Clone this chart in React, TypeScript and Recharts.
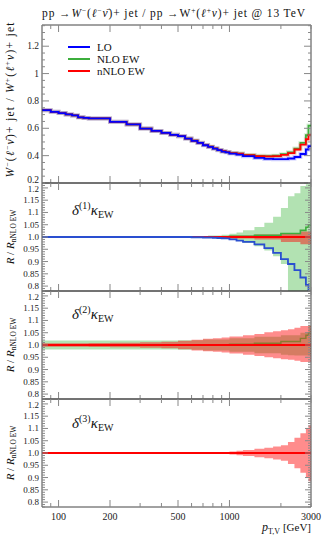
import React from 'react';
import { ComposedChart, Line, Area, XAxis, YAxis } from 'recharts';

// pT,V bin edges [GeV]
const binEdges = [80, 90, 100, 110, 120, 130, 140, 150, 200, 250, 300, 350, 400, 450, 500, 550, 600, 650, 700, 750, 800, 850, 900, 950, 1000, 1100, 1200, 1400, 1600, 1800, 2000, 2200, 2400, 2600, 2800, 2900, 3000];

// main panel: W- / W+ ratio
const mainLO = [0.732, 0.720, 0.711, 0.701, 0.694, 0.680, 0.676, 0.672, 0.647, 0.628, 0.598, 0.581, 0.566, 0.552, 0.542, 0.525, 0.508, 0.493, 0.476, 0.464, 0.452, 0.440, 0.430, 0.424, 0.415, 0.408, 0.396, 0.383, 0.376, 0.374, 0.374, 0.379, 0.390, 0.412, 0.445, 0.470];
const mainNNLO = [0.732, 0.720, 0.711, 0.701, 0.694, 0.680, 0.676, 0.672, 0.647, 0.628, 0.598, 0.581, 0.566, 0.552, 0.542, 0.525, 0.509, 0.494, 0.477, 0.465, 0.453, 0.442, 0.432, 0.426, 0.419, 0.414, 0.404, 0.396, 0.394, 0.397, 0.405, 0.418, 0.445, 0.480, 0.520, 0.550];
const mainNLO = [0.732, 0.720, 0.711, 0.701, 0.694, 0.680, 0.676, 0.672, 0.647, 0.628, 0.598, 0.581, 0.566, 0.552, 0.542, 0.525, 0.509, 0.494, 0.477, 0.465, 0.453, 0.442, 0.432, 0.426, 0.420, 0.415, 0.405, 0.399, 0.397, 0.400, 0.411, 0.424, 0.452, 0.493, 0.549, 0.620];

// ratios to nNLO EW
const ratioLO = [1, 1, 1, 1, 1, 1, 1, 1, 1, 1, 1, 1, 1, 1, 1, 1, 0.999, 0.999, 0.998, 0.998, 0.997, 0.996, 0.995, 0.994, 0.990, 0.985, 0.980, 0.970, 0.955, 0.935, 0.910, 0.890, 0.865, 0.835, 0.805, 0.775];
const ratioNLO = [1, 1, 1, 1, 1, 1, 1, 1, 1, 1, 1, 1, 1, 1, 1, 1, 1, 1, 1, 1, 1, 1, 1, 1, 1.003, 1.003, 1.003, 1.007, 1.007, 1.007, 1.014, 1.014, 1.014, 1.027, 1.040, 1.050];
const ratioNNLO = [1, 1, 1, 1, 1, 1, 1, 1, 1, 1, 1, 1, 1, 1, 1, 1, 1, 1, 1, 1, 1, 1, 1, 1, 1, 1, 1, 1, 1, 1, 1, 1, 1, 1, 1, 1];

// delta(1) kappa_EW bands
const d1NLOHi = [1.001, 1.001, 1.001, 1.001, 1.001, 1.001, 1.001, 1.001, 1.001, 1.001, 1.001, 1.001, 1.002, 1.002, 1.002, 1.002, 1.004, 1.004, 1.004, 1.006, 1.006, 1.006, 1.009, 1.009, 1.013, 1.018, 1.027, 1.041, 1.058, 1.083, 1.118, 1.166, 1.178, 1.208, 1.215, 1.250];
const d1NLOLo = [0.999, 0.999, 0.999, 0.999, 0.999, 0.999, 0.999, 0.999, 0.999, 0.999, 0.999, 0.999, 0.998, 0.998, 0.998, 0.998, 0.998, 0.998, 0.998, 0.997, 0.997, 0.997, 0.994, 0.994, 0.990, 0.985, 0.976, 0.962, 0.945, 0.922, 0.890, 0.760, 0.760, 0.760, 0.760, 0.760];
const d1NNLOHi = [1.0005, 1.0005, 1.0005, 1.0005, 1.0005, 1.0005, 1.0005, 1.0005, 1.0005, 1.0005, 1.0005, 1.0005, 1.0005, 1.0005, 1.0005, 1.0005, 1.003, 1.003, 1.003, 1.003, 1.003, 1.003, 1.003, 1.003, 1.006, 1.006, 1.006, 1.010, 1.010, 1.010, 1.015, 1.015, 1.015, 1.022, 1.022, 1.022];
const d1NNLOLo = [0.9995, 0.9995, 0.9995, 0.9995, 0.9995, 0.9995, 0.9995, 0.9995, 0.9995, 0.9995, 0.9995, 0.9995, 0.9995, 0.9995, 0.9995, 0.9995, 0.997, 0.997, 0.997, 0.997, 0.997, 0.997, 0.997, 0.997, 0.994, 0.994, 0.994, 0.990, 0.990, 0.990, 0.980, 0.980, 0.980, 0.970, 0.970, 0.970];

// delta(2) kappa_EW bands
const d2NLOHi = [1.018, 1.018, 1.018, 1.018, 1.018, 1.018, 1.018, 1.018, 1.018, 1.018, 1.018, 1.018, 1.018, 1.018, 1.019, 1.019, 1.019, 1.019, 1.022, 1.022, 1.022, 1.022, 1.022, 1.022, 1.027, 1.027, 1.027, 1.034, 1.034, 1.034, 1.040, 1.040, 1.040, 1.050, 1.050, 1.080];
const d2NLOLo = [0.982, 0.982, 0.982, 0.982, 0.982, 0.982, 0.982, 0.982, 0.982, 0.982, 0.982, 0.982, 0.982, 0.982, 0.981, 0.981, 0.981, 0.981, 0.978, 0.978, 0.978, 0.978, 0.978, 0.978, 0.973, 0.973, 0.973, 0.966, 0.966, 0.966, 0.960, 0.958, 0.957, 0.957, 0.957, 0.957];
const d2NNLOHi = [1.007, 1.007, 1.007, 1.007, 1.007, 1.007, 1.007, 1.008, 1.009, 1.009, 1.011, 1.011, 1.013, 1.013, 1.017, 1.017, 1.021, 1.021, 1.025, 1.025, 1.028, 1.028, 1.031, 1.031, 1.035, 1.035, 1.040, 1.045, 1.052, 1.056, 1.060, 1.064, 1.070, 1.077, 1.077, 1.077];
const d2NNLOLo = [0.993, 0.993, 0.993, 0.993, 0.993, 0.993, 0.993, 0.992, 0.991, 0.991, 0.989, 0.989, 0.987, 0.987, 0.983, 0.983, 0.978, 0.978, 0.975, 0.975, 0.972, 0.972, 0.969, 0.969, 0.965, 0.965, 0.960, 0.955, 0.950, 0.946, 0.942, 0.940, 0.936, 0.931, 0.931, 0.931];

// delta(3) kappa_EW band
const d3NNLOHi = [1.0005, 1.0005, 1.0005, 1.0005, 1.0005, 1.0005, 1.0005, 1.0005, 1.001, 1.001, 1.001, 1.001, 1.001, 1.001, 1.001, 1.001, 1.003, 1.003, 1.003, 1.003, 1.003, 1.003, 1.003, 1.003, 1.006, 1.009, 1.012, 1.017, 1.021, 1.026, 1.032, 1.045, 1.062, 1.080, 1.100, 1.113];
const d3NNLOLo = [0.9995, 0.9995, 0.9995, 0.9995, 0.9995, 0.9995, 0.9995, 0.9995, 0.999, 0.999, 0.999, 0.999, 0.999, 0.999, 0.999, 0.999, 0.997, 0.997, 0.997, 0.997, 0.997, 0.997, 0.997, 0.997, 0.994, 0.991, 0.988, 0.983, 0.979, 0.974, 0.968, 0.955, 0.938, 0.920, 0.900, 0.885];

// axis ticks
const xTicks = [90, 100, 200, 300, 400, 500, 600, 700, 800, 900, 1000, 2000, 3000];
const xMajor = [100, 200, 500, 1000];
const xLabels = [100, 200, 500, 1000, 3000];
const mainYTicks = [0.2, 0.25, 0.3, 0.35, 0.4, 0.45, 0.5, 0.55, 0.6, 0.65, 0.7, 0.75, 0.8, 0.85, 0.9, 0.95, 1, 1.05, 1.1, 1.15, 1.2, 1.25, 1.3, 1.35];
const mainYLabels = [0.2, 0.4, 0.6, 0.8, 1, 1.2];
const ratioYLabels = [0.8, 0.85, 0.9, 0.95, 1.0, 1.05, 1.1, 1.15, 1.2];
const ratioYTicks = Array.from({ length: 45 }, (_, i) => +(0.78 + i * 0.01).toFixed(2));

const BLUE = '#0000ff';
const BLUE_R = '#2a4fd0';
const GREEN = '#3cae3c';
const RED = '#ff0000';
const FRAME = '#444';
const TICK = '#888';
const FONT = "'Liberation Serif', 'DejaVu Serif', serif";

const W = 324;
const H = 540;
const X_L = 42;
const X_R = 311;

const rows = binEdges.map((x, i) => {
  const k = Math.min(i, binEdges.length - 2);
  return {
    x,
    lo: mainLO[k],
    nlo: mainNLO[k],
    nnlo: mainNNLO[k],
    rLO: ratioLO[k],
    rNLO: ratioNLO[k],
    rNNLO: ratioNNLO[k],
    b1NLO: [d1NLOLo[k], d1NLOHi[k]],
    b1NNLO: [d1NNLOLo[k], d1NNLOHi[k]],
    b2NLO: [d2NLOLo[k], d2NLOHi[k]],
    b2NNLO: [d2NNLOLo[k], d2NNLOHi[k]],
    b3NNLO: [d3NNLOLo[k], d3NNLOHi[k]],
  };
});

const step = (key: string, color: string, width: number, opacity = 1) => (
  <Line
    key={key + width}
    dataKey={key}
    type="stepAfter"
    stroke={color}
    strokeWidth={width}
    strokeOpacity={opacity}
    dot={false}
    activeDot={false}
    isAnimationActive={false}
  />
);

const band = (key: string, color: string, opacity: number) => (
  <Area
    key={key}
    dataKey={key}
    type="stepAfter"
    stroke="none"
    fill={color}
    fillOpacity={opacity}
    activeDot={false}
    isAnimationActive={false}
  />
);

type PanelProps = {
  top: number;
  bottom: number;
  domain: [number, number];
  yTicks: number[];
  yLabels: number[];
  fmtY: (v: number) => string;
  yFont: number;
  majorLen: number;
  labelShift: (v: number) => number;
  showX?: boolean;
  children: React.ReactNode;
};

const Panel = ({ top, bottom, domain, yTicks, yLabels, fmtY, yFont, majorLen, labelShift, showX, children }: PanelProps) => {
  // ticks point inwards, on both sides of the frame
  const xTick = (p: any) => {
    const v = p.payload.value as number;
    const len = xMajor.includes(v) ? 7 : 4;
    return (
      <g>
        <line x1={p.x} x2={p.x} y1={bottom} y2={bottom - len} stroke={TICK} />
        <line x1={p.x} x2={p.x} y1={top} y2={top + len} stroke={TICK} />
        {showX && xLabels.includes(v) ? (
          <text x={p.x} y={bottom + 13} textAnchor="middle" fontSize={10} fontFamily={FONT} fill="#222">
            {v}
          </text>
        ) : null}
      </g>
    );
  };
  const yTick = (p: any) => {
    const v = p.payload.value as number;
    const major = yLabels.some((l) => Math.abs(l - v) < 1e-6);
    const len = major ? majorLen : 3;
    return (
      <g>
        <line x1={X_L} x2={X_L + len} y1={p.y} y2={p.y} stroke={TICK} />
        <line x1={X_R - len} x2={X_R} y1={p.y} y2={p.y} stroke={TICK} />
        {major ? (
          <text x={X_L - 3} y={p.y + 3 + labelShift(v)} textAnchor="end" fontSize={yFont} fontFamily={FONT} fill="#222">
            {fmtY(v)}
          </text>
        ) : null}
      </g>
    );
  };
  return (
    <div style={{ position: 'absolute', left: 0, top: 0 }}>
      <ComposedChart
        width={W}
        height={H}
        data={rows}
        margin={{ top: top - 1, bottom: H - bottom - 1, left: 0, right: W - X_R - 1 }}
      >
        <XAxis
          dataKey="x"
          type="number"
          scale="log"
          domain={[80, 3000]}
          allowDataOverflow
          ticks={xTicks}
          interval={0}
          height={1}
          tickLine={false}
          axisLine={{ stroke: FRAME }}
          tick={xTick}
        />
        <XAxis
          xAxisId="top"
          orientation="top"
          dataKey="x"
          type="number"
          scale="log"
          domain={[80, 3000]}
          allowDataOverflow
          height={1}
          tick={false}
          tickLine={false}
          axisLine={{ stroke: FRAME }}
        />
        <YAxis
          type="number"
          domain={domain}
          allowDataOverflow
          ticks={yTicks}
          interval={0}
          width={X_L}
          tickLine={false}
          axisLine={{ stroke: FRAME }}
          tick={yTick}
        />
        <YAxis
          yAxisId="right"
          orientation="right"
          type="number"
          domain={domain}
          allowDataOverflow
          width={1}
          tick={false}
          tickLine={false}
          axisLine={{ stroke: FRAME }}
        />
        {children}
      </ComposedChart>
    </div>
  );
};

const fmtMain = (v: number) => (v === 1 ? '1' : String(v));
const fmtRatio = (v: number) => (Math.round(v * 100) % 10 === 0 ? v.toFixed(1) : v.toFixed(2));
// keep the 0.2 / 1.2 labels at the panel joins apart
const shiftMain = (v: number) => (v === 0.2 ? -3 : 0);
const shiftRatio = (v: number) => (v === 1.2 ? 1.5 : 0);

const GREEN_BAND = '#00a000';
const RED_BAND = '#ff0000';

const KappaLabel = ({ n, y }: { n: number; y: number }) => (
  <text x={72} y={y} fontSize={15} fill="#111">
    <tspan fontStyle="italic">δ</tspan>
    <tspan fontSize={10} dy={-6}>({n})</tspan>
    <tspan fontStyle="italic" dy={6}>κ</tspan>
    <tspan fontSize={10} dy={3}>EW</tspan>
  </text>
);

const RatioLabel = ({ y }: { y: number }) => (
  <text transform={`translate(14,${y}) rotate(-90)`} textAnchor="middle" fontSize={11} fill="#111">
    <tspan fontStyle="italic">R</tspan>
    <tspan> / </tspan>
    <tspan fontStyle="italic">R</tspan>
    <tspan fontSize={7.5} dy={2}>nNLO EW</tspan>
  </text>
);

export default function App() {
  const ratioDomain: [number, number] = [0.78, 1.22];
  return (
    <div style={{ position: 'absolute', left: 0, top: 0, width: W, height: H, background: '#fff' }}>
      <Panel top={25} bottom={183} domain={[0.2, 1.355]} yTicks={mainYTicks} yLabels={mainYLabels} fmtY={fmtMain} yFont={9.5} majorLen={7} labelShift={shiftMain}>
        {step('nlo', GREEN, 4, 0.2)}
        {step('nnlo', RED, 4, 0.15)}
        {step('lo', BLUE, 4, 0.2)}
        {step('nlo', GREEN, 1.8)}
        {step('nnlo', RED, 1.8)}
        {step('lo', BLUE, 1.8)}
      </Panel>
      <Panel top={183} bottom={291} domain={ratioDomain} yTicks={ratioYTicks} yLabels={ratioYLabels} fmtY={fmtRatio} yFont={9} majorLen={6} labelShift={shiftRatio}>
        {band('b1NLO', GREEN_BAND, 0.3)}
        {band('b1NNLO', RED_BAND, 0.45)}
        {step('rNLO', GREEN, 1.6)}
        {step('rNNLO', RED, 2.2)}
        {step('rLO', BLUE_R, 1.8)}
      </Panel>
      <Panel top={291} bottom={399} domain={ratioDomain} yTicks={ratioYTicks} yLabels={ratioYLabels} fmtY={fmtRatio} yFont={9} majorLen={6} labelShift={shiftRatio}>
        {band('b2NLO', GREEN_BAND, 0.3)}
        {band('b2NNLO', RED_BAND, 0.45)}
        {step('rNLO', '#8a7a30', 1.4)}
        {step('rNNLO', RED, 2.2)}
      </Panel>
      <Panel top={399} bottom={507} domain={ratioDomain} yTicks={ratioYTicks} yLabels={ratioYLabels} fmtY={fmtRatio} yFont={9} majorLen={6} labelShift={shiftRatio} showX>
        {band('b3NNLO', RED_BAND, 0.45)}
        {step('rNNLO', RED, 2.2)}
      </Panel>
      <svg
        width={W}
        height={H}
        style={{ position: 'absolute', left: 0, top: 0, pointerEvents: 'none' }}
        fontFamily={FONT}
      >
        <text x={42} y={16.5} fontSize={11.5} fill="#111" textLength={263}>
          <tspan>pp →</tspan>
          <tspan fontStyle="italic">W</tspan>
          <tspan fontSize={7.5} dy={-4}>−</tspan>
          <tspan dy={4}>(</tspan>
          <tspan fontStyle="italic">ℓ</tspan>
          <tspan fontSize={7.5} dy={-4}>−</tspan>
          <tspan fontStyle="italic" dy={4}>ν̄</tspan>
          <tspan>)+ jet / pp →</tspan>
          <tspan>W</tspan>
          <tspan fontSize={7.5} dy={-4}>+</tspan>
          <tspan dy={4}>(</tspan>
          <tspan fontStyle="italic">ℓ</tspan>
          <tspan fontSize={7.5} dy={-4}>+</tspan>
          <tspan fontStyle="italic" dy={4}>ν</tspan>
          <tspan>)+ jet @ 13 TeV</tspan>
        </text>

        <text transform="translate(14,100) rotate(-90)" textAnchor="middle" fontSize={11.5} fill="#111" textLength={155}>
          <tspan fontStyle="italic">W</tspan>
          <tspan fontSize={7.5} dy={-4}>−</tspan>
          <tspan dy={4}>(</tspan>
          <tspan fontStyle="italic">ℓ</tspan>
          <tspan fontSize={7.5} dy={-4}>−</tspan>
          <tspan fontStyle="italic" dy={4}>ν̄</tspan>
          <tspan>)+ jet / </tspan>
          <tspan fontStyle="italic">W</tspan>
          <tspan fontSize={7.5} dy={-4}>+</tspan>
          <tspan dy={4}>(</tspan>
          <tspan fontStyle="italic">ℓ</tspan>
          <tspan fontSize={7.5} dy={-4}>+</tspan>
          <tspan fontStyle="italic" dy={4}>ν</tspan>
          <tspan>)+ jet</tspan>
        </text>

        <line x1={68} x2={90} y1={47} y2={47} stroke={BLUE} strokeWidth={2} />
        <text x={97} y={51} fontSize={11} fill="#111">LO</text>
        <line x1={68} x2={90} y1={59} y2={59} stroke={GREEN} strokeWidth={2} />
        <text x={97} y={63} fontSize={11} fill="#111">NLO EW</text>
        <line x1={68} x2={90} y1={71} y2={71} stroke={RED} strokeWidth={2} />
        <text x={97} y={75} fontSize={11} fill="#111">nNLO EW</text>

        <KappaLabel n={1} y={215} />
        <KappaLabel n={2} y={319} />
        <KappaLabel n={3} y={428} />

        <RatioLabel y={237} />
        <RatioLabel y={345} />
        <RatioLabel y={453} />

        <text x={311} y={531} textAnchor="end" fontSize={12} fill="#111">
          <tspan fontStyle="italic">p</tspan>
          <tspan fontSize={8} dy={3}>T,V</tspan>
          <tspan fontSize={11} dy={-3}> [GeV]</tspan>
        </text>
      </svg>
    </div>
  );
}
